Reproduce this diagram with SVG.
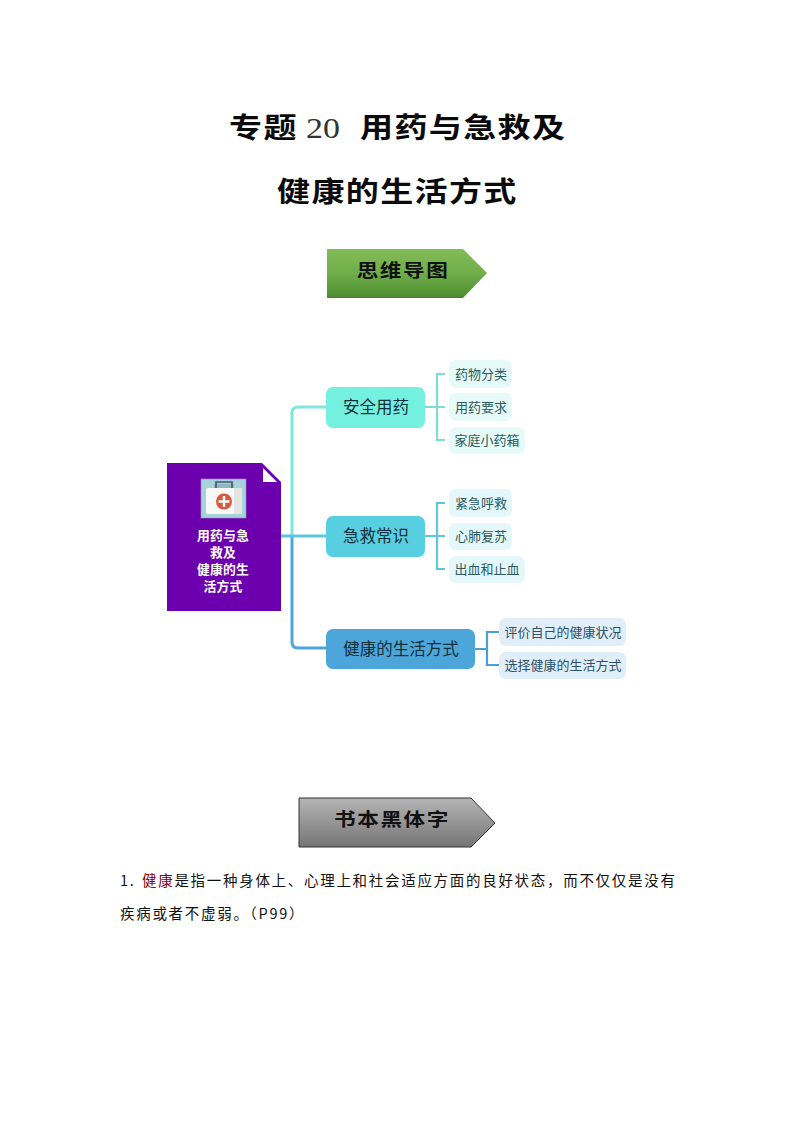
<svg xmlns="http://www.w3.org/2000/svg" width="794" height="1123" viewBox="0 0 794 1123">
<style>
text{font-family:"Noto Sans CJK SC","Liberation Sans",sans-serif}
.title{font-size:28px;font-weight:700;fill:#0a0a0a;letter-spacing:1.15px}
.tag{font-size:18px;font-weight:700;fill:#111;letter-spacing:1.3px;text-anchor:middle}
.main{font-size:16.5px;fill:#12303a;text-anchor:middle}
.leaf{font-size:13px;fill:#2c5a5e;text-anchor:middle}
.body{font-size:14.5px;fill:#111;letter-spacing:1.7px}
.root{font-size:12.8px;font-weight:700;fill:#fff;text-anchor:middle;letter-spacing:.2px}
.c{fill:none;stroke-width:3}
.b{fill:none;stroke-width:2.2}
</style>
<defs>
<linearGradient id="green" x1="0" y1="0" x2="0" y2="1"><stop offset="0" stop-color="#84bb58"/><stop offset="0.5" stop-color="#6fae48"/><stop offset="0.96" stop-color="#4f8f32"/><stop offset="1" stop-color="#55704a"/></linearGradient>
<linearGradient id="gray" x1="0" y1="0" x2="0" y2="1"><stop offset="0" stop-color="#b4b4b4"/><stop offset="0.55" stop-color="#929292"/><stop offset="1" stop-color="#757575"/></linearGradient>
</defs>
<rect width="794" height="1123" fill="#fff"/>
<g id="title">
<text class="title" transform="translate(229,138) scale(1.18,1)">专题</text>
<text transform="translate(306,138) scale(1.13,1)" font-size="30" style="font-family:'Liberation Serif',serif" fill="#333">20</text>
<text class="title" transform="translate(360,138) scale(1.18,1)">用药与急救及</text>
<text class="title" transform="translate(277,202) scale(1.18,1)">健康的生活方式</text>
</g>
<g id="tag-mindmap">
<polygon points="327,249 463,249 487,273 463,298 327,298" fill="url(#green)"/>
<text class="tag" transform="translate(403,277) scale(1.2,1)">思维导图</text>
</g>
<g id="connectors">
<path class="c" stroke="#7fe6de" d="M292 536V413Q292 407 298 407H327"/>
<path class="c" stroke="#4da6da" d="M292 536V642Q292 648 298 648H327"/>
<path class="c" stroke="#5bc6dc" d="M281 536H327"/>
<path class="b" stroke="#7fdcd5" d="M424 407H445M445 374H437V440H445"/>
<path class="b" stroke="#5cc8d8" d="M424 536H445M445 503H437V569H445"/>
<path class="b" stroke="#4f9fd4" d="M475 649H487M499 632H487V665H499"/>
</g>
<g id="root">
<polygon points="167,463 262,463 281,482 281,611 167,611" fill="#6c00ae"/>
<polygon points="263,468 263,482 277,482" fill="#fff"/>
<rect x="201" y="479" width="45" height="39" fill="#a9d1dc" stroke="#8a94b8" stroke-width=".6"/>
<rect x="214" y="484" width="20" height="5" fill="#8fb6c2"/>
<path d="M216 488V482H232V488" fill="none" stroke="#3f5a6c" stroke-width="1.6"/>
<rect x="206" y="488" width="36" height="26" rx="2" fill="#f8f8f6"/>
<path d="M234 488H240Q242 488 242 490V512Q242 514 240 514H234Z" fill="#e4e4e2"/>
<circle cx="224" cy="501.5" r="8" fill="#d9573a"/>
<path d="M224 496V507M218.500 501.500H229.500" stroke="#fff" stroke-width="2.500"/>
<text class="root" x="223" y="539.500">用药与急</text>
<text class="root" x="223" y="556.500">救及</text>
<text class="root" x="223" y="573.500">健康的生</text>
<text class="root" x="223" y="590.500">活方式</text>
</g>
<g id="n1"><rect x="326" y="387" width="99" height="41" rx="7" fill="#74f0e0"/><text class="main" x="376" y="413">安全用药</text></g>
<g id="n2"><rect x="326" y="516" width="99" height="41" rx="7" fill="#57cfe0"/><text class="main" x="376" y="542">急救常识</text></g>
<g id="n3"><rect x="326" y="629" width="149" height="40" rx="7" fill="#4da6da"/><text class="main" x="401" y="655">健康的生活方式</text></g>
<g id="l1"><rect x="449" y="360" width="63" height="28" rx="7" fill="#e6faf8"/><text class="leaf" x="481" y="379">药物分类</text></g>
<g id="l2"><rect x="449" y="393" width="63" height="28" rx="7" fill="#e6faf8"/><text class="leaf" x="481" y="412">用药要求</text></g>
<g id="l3"><rect x="449" y="427" width="76" height="27" rx="7" fill="#e6faf8"/><text class="leaf" x="487" y="445">家庭小药箱</text></g>
<g id="l4"><rect x="449" y="489" width="63" height="28" rx="7" fill="#e4f7fa"/><text class="leaf" x="481" y="508">紧急呼救</text></g>
<g id="l5"><rect x="449" y="523" width="63" height="27" rx="7" fill="#e4f7fa"/><text class="leaf" x="481" y="541">心肺复苏</text></g>
<g id="l6"><rect x="449" y="556" width="76" height="27" rx="7" fill="#e4f7fa"/><text class="leaf" x="487" y="574">出血和止血</text></g>
<g id="l7"><rect x="499" y="618" width="127" height="28" rx="7" fill="#e0eefa"/><text class="leaf" x="563" y="637" style="fill:#2c5068">评价自己的健康状况</text></g>
<g id="l8"><rect x="499" y="652" width="127" height="27" rx="7" fill="#e0eefa"/><text class="leaf" x="563" y="670" style="fill:#2c5068">选择健康的生活方式</text></g>
<g id="tag-keywords">
<polygon points="299,798 471,798 495,823 471,847 299,847" fill="url(#gray)" stroke="#333" stroke-width="1"/>
<text class="tag" transform="translate(392,826) scale(1.2,1)">书本黑体字</text>
</g>
<g id="body">
<text class="body" x="120" y="886">1. <tspan x="142" fill="#8b0000">健康</tspan>是指一种身体上、心理上和社会适应方面的良好状态，而不仅仅是没有</text>
<text class="body" x="120" y="919">疾病或者不虚弱。（P99）</text>
</g>
</svg>
